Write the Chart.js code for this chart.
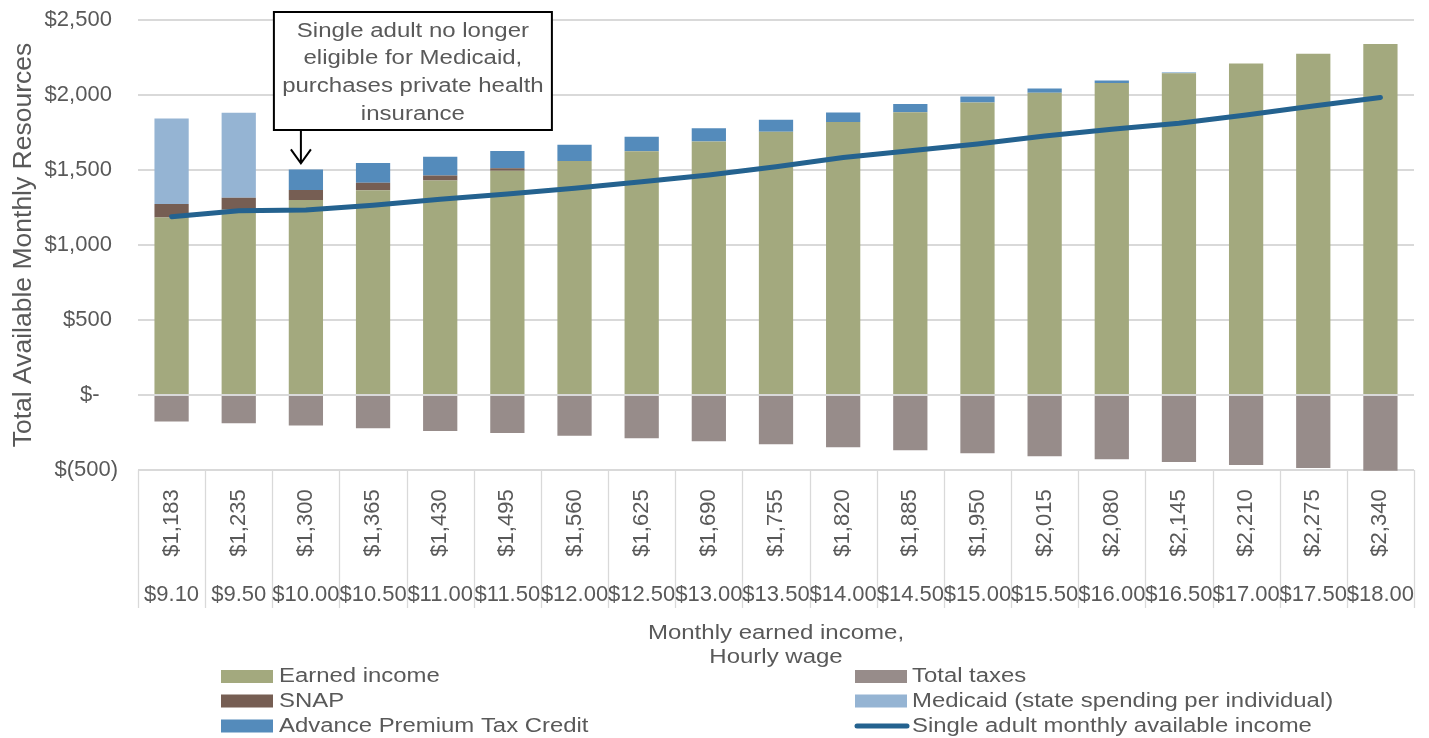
<!DOCTYPE html>
<html>
<head>
<meta charset="utf-8">
<script src="https://cdn.jsdelivr.net/npm/chart.js@4.4.1/dist/chart.umd.min.js"></script>
<style>
  html, body { margin: 0; padding: 0; background: #fff; }
  #wrap { width: 1429px; height: 738px; position: relative; }
</style>
</head>
<body>
<div id="wrap"><canvas id="resourcesChart"></canvas></div>
<script>
// ---- data ----
const monthlyIncomeLabels = ['$1,183','$1,235','$1,300','$1,365','$1,430','$1,495','$1,560','$1,625','$1,690','$1,755',
  '$1,820','$1,885','$1,950','$2,015','$2,080','$2,145','$2,210','$2,275','$2,340'];
const hourlyWages = ['$9.10','$9.50','$10.00','$10.50','$11.00','$11.50','$12.00','$12.50','$13.00','$13.50',
  '$14.00','$14.50','$15.00','$15.50','$16.00','$16.50','$17.00','$17.50','$18.00'];
const earnedIncome = [1183,1235,1300,1365,1430,1495,1560,1625,1690,1755,1820,1885,1950,2015,2080,2145,2210,2275,2340];
const totalTaxes = [-176,-189,-204,-222,-240,-253,-271,-289,-309,-329,-349,-369,-389,-409,-429,-447,-467,-487,-505];
const snap = [90,80,67,50,33,17,0,0,0,0,0,0,0,0,0,0,0,0,0];
const medicaid = [571,567,0,0,0,0,0,0,0,0,0,0,0,0,0,0,0,0,0];
const premiumTaxCredit = [0,0,137,132,125,115,109,97,88,80,64,55,40,29,16,5,0,0,0];
const availableIncome = [1189,1229,1233,1265,1305,1340,1378,1422,1467,1522,1584,1629,1673,1727,1771,1811,1867,1927,1984];
const yTicks = [-500, 0, 500, 1000, 1500, 2000, 2500];

const FONT = "'Liberation Sans', Arial, sans-serif";
const TEXT = '#595959';
const GRID = '#d9d9d9';

// accounting style $ labels
function money(v) {
  if (v === 0) return '$-   ';
  if (v < 0) return '$(' + Math.abs(v).toLocaleString('en-US') + ')';
  return '$' + v.toLocaleString('en-US') + ' ';
}

// text squeezed / widened horizontally
function drawText(ctx, text, x, y, size, sx, align) {
  ctx.save();
  ctx.font = size + 'px ' + FONT;
  ctx.textBaseline = 'middle';
  ctx.textAlign = align || 'center';
  ctx.translate(x, y);
  ctx.scale(sx, 1);
  ctx.fillText(text, 0, 0);
  ctx.restore();
}

// two-level category table under the plot
const categoryTable = {
  id: 'categoryTable',
  afterDraw(chart) {
    const { ctx, chartArea } = chart;
    const x = chart.scales.x;
    const n = hourlyWages.length;
    const step = (chartArea.right - chartArea.left) / n;
    const top = chartArea.bottom;
    ctx.save();
    ctx.strokeStyle = GRID;
    ctx.lineWidth = 1.3;
    for (let i = 0; i <= n; i++) {
      const lx = Math.round(chartArea.left + i * step) + 0.5;
      ctx.beginPath();
      ctx.moveTo(lx, top);
      ctx.lineTo(lx, top + 138);
      ctx.stroke();
    }
    ctx.fillStyle = TEXT;
    for (let i = 0; i < n; i++) {
      const cx = x.getPixelForValue(i);
      ctx.save();
      ctx.translate(cx, top + 53);
      ctx.rotate(-Math.PI / 2);
      ctx.font = '22px ' + FONT;
      ctx.textAlign = 'center';
      ctx.textBaseline = 'middle';
      ctx.fillText(monthlyIncomeLabels[i], 0, 0);
      ctx.restore();
      drawText(ctx, hourlyWages[i], cx, top + 125, 22, 1.0);
    }
    const mid = (chartArea.left + chartArea.right) / 2;
    drawText(ctx, 'Monthly earned income,', mid, top + 163, 20, 1.2);
    drawText(ctx, 'Hourly wage', mid, top + 187, 20, 1.2);
    ctx.restore();
  }
};

// two-column legend, filled row by row
const gridLegend = {
  id: 'gridLegend',
  afterDraw(chart) {
    const { ctx } = chart;
    const cols = [{ box: 221, text: 279 }, { box: 855, text: 912 }];
    const rows = [676.5, 701, 726];
    ctx.save();
    chart.data.datasets.forEach((ds, i) => {
      const c = cols[i % 2];
      const y = rows[Math.floor(i / 2)];
      if (ds.type === 'line') {
        ctx.strokeStyle = ds.borderColor;
        ctx.lineWidth = 5;
        ctx.lineCap = 'round';
        ctx.beginPath();
        ctx.moveTo(c.box + 2, y);
        ctx.lineTo(c.box + 52, y);
        ctx.stroke();
      } else {
        ctx.fillStyle = ds.backgroundColor;
        ctx.fillRect(c.box, y - 6.5, 52, 13);
      }
      ctx.fillStyle = TEXT;
      drawText(ctx, ds.label, c.text, y, 20, 1.195, 'left');
    });
    ctx.restore();
  }
};

// callout pointing at the first bar with the tax credit
const medicaidCallout = {
  id: 'medicaidCallout',
  afterDraw(chart) {
    const { ctx, chartArea } = chart;
    const i = 2;
    const top = earnedIncome[i] + snap[i] + medicaid[i] + premiumTaxCredit[i];
    const ax = chart.scales.x.getPixelForValue(i) - 5;
    const tipY = chart.scales.y.getPixelForValue(top) - 6;
    const box = { left: ax - 27, right: ax + 251, top: chartArea.top - 8, bottom: chartArea.top + 110 };
    ctx.save();
    ctx.fillStyle = '#fff';
    ctx.fillRect(box.left, box.top, box.right - box.left, box.bottom - box.top);
    ctx.strokeStyle = '#000';
    ctx.lineWidth = 2;
    ctx.strokeRect(box.left, box.top, box.right - box.left, box.bottom - box.top);
    ctx.fillStyle = TEXT;
    const lines = ['Single adult no longer', 'eligible for Medicaid,', 'purchases private health', 'insurance'];
    const cx = (box.left + box.right) / 2;
    lines.forEach((t, k) => drawText(ctx, t, cx, box.top + 19 + k * 27.7, 20, 1.2));
    // arrow
    ctx.strokeStyle = '#000';
    ctx.lineWidth = 2;
    ctx.beginPath();
    ctx.moveTo(ax, box.bottom);
    ctx.lineTo(ax, tipY);
    ctx.moveTo(ax - 10, tipY - 14);
    ctx.lineTo(ax, tipY);
    ctx.lineTo(ax + 10, tipY - 14);
    ctx.stroke();
    ctx.restore();
  }
};

const ctx = document.getElementById('resourcesChart').getContext('2d');
const chart = new Chart(ctx, {
  type: 'bar',
  data: {
    labels: hourlyWages,
    datasets: [
      { label: 'Earned income', data: earnedIncome, backgroundColor: '#a3a97e', order: 1 },
      { label: 'Total taxes', data: totalTaxes, backgroundColor: '#978c8a', order: 1 },
      { label: 'SNAP', data: snap, backgroundColor: '#765e53', order: 1 },
      { label: 'Medicaid (state spending per individual)', data: medicaid, backgroundColor: '#95b4d3', order: 1 },
      { label: 'Advance Premium Tax Credit', data: premiumTaxCredit, backgroundColor: '#548bbb', order: 1 },
      {
        type: 'line', label: 'Single adult monthly available income', data: availableIncome,
        stack: 'income', order: 0, borderColor: '#24628f', backgroundColor: '#24628f',
        borderWidth: 5, borderCapStyle: 'round', pointRadius: 0, tension: 0, fill: false
      }
    ]
  },
  options: {
    responsive: true,
    maintainAspectRatio: false,
    animation: false,
    layout: { padding: { top: 20, right: 15, bottom: 268, left: 0 } },
    datasets: { bar: { barPercentage: 0.51, categoryPercentage: 1.0, clip: false } },
    scales: {
      x: { display: false, stacked: true },
      y: {
        stacked: true,
        min: -500,
        max: 2500,
        afterBuildTicks(scale) { scale.ticks = yTicks.map(v => ({ value: v })); },
        afterFit(scale) {
          scale.width = 138;
          scale.paddingTop = 0;
          scale.paddingBottom = 0;
        },
        grid: { color: GRID, lineWidth: 2, drawTicks: false },
        border: { display: false },
        ticks: {
          padding: 20,
          color: TEXT,
          font: { family: FONT, size: 22 },
          callback: v => money(v)
        },
        title: {
          display: true,
          text: 'Total Available Monthly Resources',
          color: TEXT,
          font: { family: FONT, size: 26.5 },
          padding: { top: 8, bottom: 0 }
        }
      }
    },
    plugins: {
      legend: { display: false },
      tooltip: { enabled: false }
    }
  },
  plugins: [categoryTable, gridLegend, medicaidCallout]
});
</script>
</body>
</html>
